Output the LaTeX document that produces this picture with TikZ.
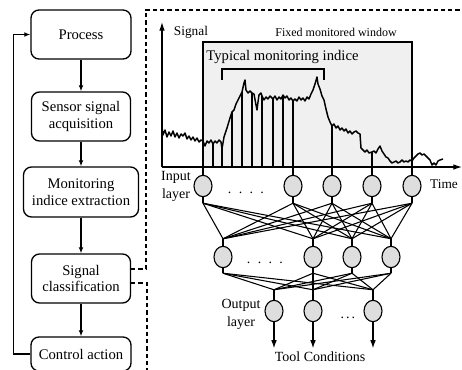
\documentclass[tikz,border=0pt]{standalone}
\usepackage{fontspec}
\setmainfont{Liberation Serif}
\usetikzlibrary{arrows.meta,calc,shapes.geometric,positioning}
\tikzset{
  blk/.style={rectangle,rounded corners=6pt,draw=black,line width=1pt,align=center,inner sep=1pt,font=\fontsize{11}{12.6}\selectfont},
  neu/.style={ellipse,draw=black,fill=black!13,minimum width=13.5pt,minimum height=16pt,inner sep=0pt,line width=.85pt},
  lnk/.style={draw=black,line width=.8pt},
  arr/.style={-{Latex[length=4.5pt,width=3.6pt]},line width=.85pt},
  oarr/.style={-{Latex[length=6pt,width=4.2pt]},line width=.85pt},
  axs/.style={-{Latex[length=6.5pt,width=4.2pt]},line width=.85pt},
  dsh/.style={draw=black,line width=.85pt,dash pattern=on 3.2pt off 2.2pt},
  win/.style={draw=black,fill=black!6,line width=.85pt},
  sig/.style={draw=black,line width=1.1pt,line join=round},
  lb/.style={font=\fontsize{10.5}{13.5}\selectfont,align=center,inner sep=0pt},
  sl/.style={font=\fontsize{9}{11}\selectfont,inner sep=0pt},
}

\begin{document}
\begin{tikzpicture}[x=0.75pt,y=-0.75pt]
\useasboundingbox (0,0) rectangle (462,369);
% monitoring loop
\node[blk,minimum width=75pt,minimum height=36.75pt] (proc) at (81,34.5) {Process};
\node[blk,minimum width=74.25pt,minimum height=36.75pt] (sens) at (81,116.5) {Sensor signal\\acquisition};
\node[blk,minimum width=86.25pt,minimum height=37.5pt] (mon) at (81,192) {Monitoring\\indice extraction};
\node[blk,minimum width=74.25pt,minimum height=36.75pt] (cls) at (81,278.5) {Signal\\classification};
\node[blk,minimum width=75pt,minimum height=25.5pt] (ctrl) at (81,354) {Control action};
\draw[arr] (proc) -- (sens);
\draw[arr] (sens) -- (mon);
\draw[arr] (mon) -- (cls);
\draw[arr] (cls) -- (ctrl);
\draw[arr] (ctrl.west) -- ++(-17,0) |- (proc.west);

% dashed frame round the classifier
\coordinate (fa) at (146,10);
\coordinate (fb) at (470,10);
\coordinate (fc) at (147,375);
\draw[dsh] ($(cls.east)+(0,-9.5)$) -| (fa) -- (fb);
\draw[dsh] ($(cls.east)+(0,4.5)$) -| (fc);

% signal and window
\draw[win] (203,42) rectangle (412,167);
\node[sl] (fw) at (336,32) {Fixed monitored window};
\node[lb,font=\fontsize{11}{13}\selectfont] (tmi) at (282.5,57) {Typical monitoring indice};
\draw[lnk,line width=.85pt] (222,80) -- (222,69) -- (324,69) -- (324,80);
\draw[sig] plot coordinates {(162,127) (163,135) (165,130) (167,137) (169,132) (171,136)
  (173,131) (175,137) (177,133) (179,138) (181,134) (183,136) (185,133) (187,139) (189,136)
  (191,140) (193,137) (195,141) (197,138) (199,142) (201,140) (203,141) (205,146) (207,141)
  (209,143) (211,140) (213,144) (215,141) (217,143) (219,140) (221,142) (222,149) (224,137)
  (227,128) (230,118) (232,112) (234,110) (236,104) (238,100) (240,96) (242,92) (244,83)
  (245,80) (246,90) (248,93) (250,91) (252,93) (254,94) (256,105) (257,110) (258,102)
  (259,95) (261,93) (262,96) (264,100) (266,97) (268,99) (270,96) (273,99) (275,96)
  (277,100) (279,97) (281,99) (283,95) (285,98) (287,96) (289,100) (291,98) (293,101)
  (295,99) (297,101) (299,97) (301,100) (303,98) (305,101) (307,97) (309,99) (311,94)
  (313,90) (315,84) (317,77) (318,84) (320,89) (322,96) (324,100) (326,109) (328,117)
  (330,122) (332,126) (334,124) (336,128) (338,126) (340,130) (342,128) (344,131) (346,129)
  (348,133) (350,131) (352,134) (354,132) (356,131) (358,133) (360,134) (361,148) (363,150)
  (365,152) (367,150) (369,153) (372,152) (374,151) (376,153) (378,149) (380,146) (382,151)
  (384,154) (386,157) (388,158) (390,161) (392,163) (394,162) (396,161) (398,163) (400,162)
  (402,160) (404,162) (406,161) (408,162) (410,160) (412,161) (414,158) (416,156) (418,154)
  (420,153) (422,155) (424,154) (426,156) (428,158) (430,160) (432,165) (434,163) (436,165)
  (438,161) (440,160) (443,159)};
\coordinate (O) at (162,167);
\coordinate (ytip) at (162,22);
\coordinate (xtip) at (462,167);
\foreach \n/\x/\y in {1/213/144,2/222/149,3/232/112,4/242/92,5/252/93,6/262/96,7/273/99,
  8/283/95,9/293/101,10/332/126,11/372/152,12/412/161}
  \coordinate (s\n) at (\x,\y);
\foreach \n in {1,...,8}
  \draw[lnk] (s\n) -- (s\n |- O);
\draw[axs] (O) -- (ytip);
\draw[axs] (O) -- (xtip);
\node[lb,font=\fontsize{10}{12}\selectfont] (sg) at (191,32) {Signal};
\node[lb,font=\fontsize{10}{12}\selectfont] (tm) at (444,184) {Time};

% network
\foreach \i/\x in {1/203,2/293,3/332,4/372,5/412}
  \node[neu] (in\i) at (\x,186) {};
\foreach \j/\x in {1/223,2/313,3/352,4/391}
  \node[neu] (h\j) at (\x,257) {};
\foreach \k/\x in {1/274,2/313,3/373}
  \node[neu] (o\k) at (\x,311) {};
\draw[lnk] (in1.north) -- (in1.north |- O);
\draw[lnk] (in2.north) -- (s9);
\draw[lnk] (in3.north) -- (s10);
\draw[lnk] (in4.north) -- (s11);
\draw[lnk] (in5.north) -- (s12);
\foreach \i in {1,...,5} {
  \coordinate (ib\i) at ($(in\i.south)+(0,6)$);
  \draw[lnk] (in\i.south) -- (ib\i);
}
\foreach \j in {1,...,4} {
  \coordinate (ht\j) at ($(h\j.north)+(0,-7)$);
  \coordinate (hb\j) at ($(h\j.south)+(0,5)$);
  \draw[lnk] (h\j.north) -- (ht\j);
  \draw[lnk] (h\j.south) -- (hb\j);
}
\foreach \k in {1,...,3} {
  \coordinate (ot\k) at ($(o\k.north)+(0,-10)$);
  \coordinate (tc\k) at ($(o\k.south)+(0,26)$);
  \draw[lnk] (o\k.north) -- (ot\k);
  \draw[oarr] (o\k.south) -- (tc\k);
}
\foreach \i in {1,...,5}
  \foreach \j in {1,...,4}
    \draw[lnk] (ib\i) -- (ht\j);
\foreach \j in {1,...,4}
  \foreach \k in {1,...,3}
    \draw[lnk] (hb\j) -- (ot\k);
\node[lb] (dd1) at (246,193) {.\hspace{5.5pt}.\hspace{5.5pt}.\hspace{5.5pt}.};
\node[lb] (dd2) at (265,263) {.\hspace{5.5pt}.\hspace{5.5pt}.\hspace{5.5pt}.};
\node[lb] (dd3) at (348,318) {.\hspace{1.5pt}.\hspace{1.5pt}.};
\node[lb] (il) at (176,186) {Input\\layer};
\node[lb] (ol) at (241,314) {Output\\layer};
\node[lb] (tcl) at (320,357) {Tool Conditions};
\end{tikzpicture}
\end{document}
